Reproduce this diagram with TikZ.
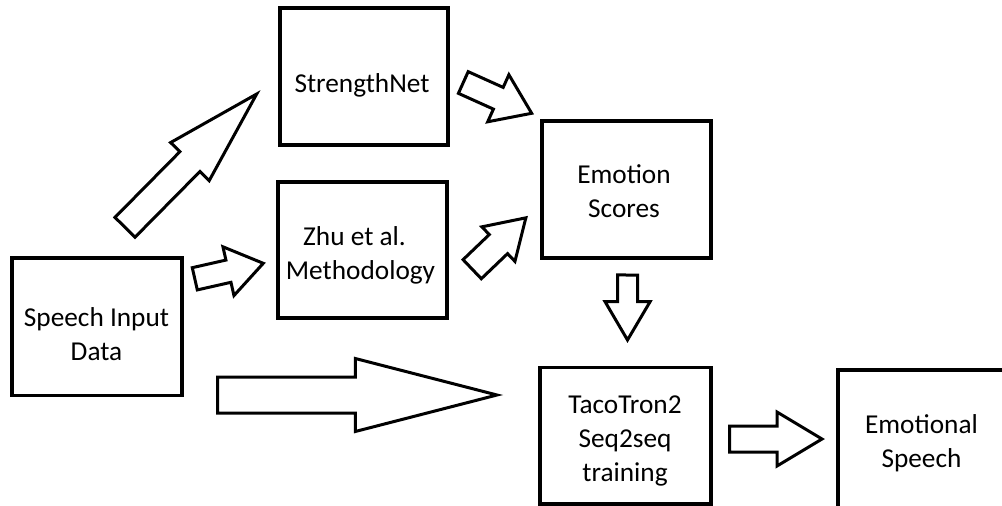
\documentclass[tikz,border=0pt]{standalone}
\usepackage{fontspec}
\setmainfont{Carlito}
\usetikzlibrary{calc}
\tikzset{
  box/.style={draw=black, line width=3.5pt, fill=white, inner sep=0pt},
  lbl/.style={anchor=base, inner sep=0pt, font=\fontsize{27.3}{34}\selectfont},
  barrow/.style={draw=black, line width=3pt, fill=white, line join=miter},
}
% #1 tail coordinate, #2 tip coordinate, #3 shaft half width, #4 head half width, #5 head length
\newcommand\blockarrow[5]{%
  \draw[barrow] let \p1=($(#2)-(#1)$), \n1={atan2(\y1,\x1)}, \n2={veclen(\x1,\y1)} in
    [shift={(#1)}, rotate=\n1]
    (0,#3) -- ({\n2-#5},#3) -- ({\n2-#5},#4) -- (\n2,0) -- ({\n2-#5},-#4)
    -- ({\n2-#5},-#3) -- (0,-#3) -- cycle;
}
\newcommand\twolines[2]{\begin{tabular}[t]{@{}c@{}}#1\\#2\end{tabular}}
\newcommand\threelines[3]{\begin{tabular}[t]{@{}c@{}}#1\\#2\\#3\end{tabular}}
\begin{document}
\begin{tikzpicture}[x=1pt, y=-1pt]
  \useasboundingbox (0,0) rectangle (1002,506);
  \clip (0,0) rectangle (1002,506);
  % boxes
  \node[box, minimum width=168pt, minimum height=137pt] (sn)  at (364,76.5) {};
  \node[box, minimum width=169pt, minimum height=136pt] (zhu) at (362.5,250) {};
  \node[box, minimum width=170pt, minimum height=137.5pt] (sid) at (97,326.7) {};
  \node[box, minimum width=169pt, minimum height=137pt] (es)  at (626.5,189.5) {};
  \node[box, minimum width=171pt, minimum height=136.5pt] (tt)  at (625.5,435.5) {};
  \node[box, minimum width=172pt, minimum height=140pt] (ems) at (924,440) {};
  % texts
  \node[lbl] (sn-t)  at (362,92)    {StrengthNet};
  \node[lbl] (zhu-t) at (360.5,245) {\twolines{Zhu et al.\kern12pt}{Methodology}};
  \node[lbl] (sid-t) at (96.5,326)  {\twolines{Speech Input}{Data}};
  \node[lbl] (es-t)  at (624,183)   {\twolines{Emotion}{Scores}};
  \node[lbl] (tt-t)  at (625,413)   {\threelines{TacoTron2}{Seq2seq}{training}};
  \node[lbl] (ems-t) at (921.5,433) {\twolines{Emotional}{Speech}};
  % arrow end points
  \coordinate (a1s) at (125,227.3);   \coordinate (a1e) at (256.7,94);
  \coordinate (a2s) at (194.8,278.8); \coordinate (a2e) at (263.3,263.3);
  \coordinate (a3s) at (463.3,82.5);  \coordinate (a3e) at (531.7,113.3);
  \coordinate (a4s) at (472.2,269.2); \coordinate (a4e) at (526,217.7);
  \coordinate (a5s) at (627.6,275);   \coordinate (a5e) at (627.5,340);
  \coordinate (a6s) at (217.7,395);   \coordinate (a6e) at (497,395);
  \coordinate (a7s) at (729.5,439);   \coordinate (a7e) at (822,439);
  % block arrows
  \blockarrow{a1s}{a1e}{14.1}{27.1}{95}
  \blockarrow{a2s}{a2e}{11.4}{25}{35.7}
  \blockarrow{a3s}{a3e}{11.9}{25.8}{36.6}
  \blockarrow{a4s}{a4e}{13.2}{23.9}{38}
  \blockarrow{a5s}{a5e}{10}{22.5}{38.3}
  \blockarrow{a6s}{a6e}{18}{36.5}{141.7}
  \blockarrow{a7s}{a7e}{13}{27}{45}
\end{tikzpicture}
\end{document}
